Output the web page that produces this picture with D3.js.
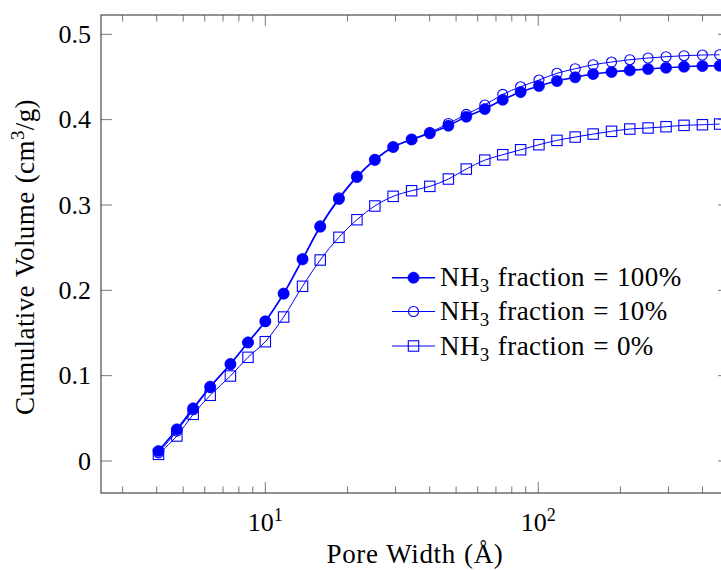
<!DOCTYPE html>
<html>
<head>
<meta charset="utf-8">
<script src="https://cdn.jsdelivr.net/npm/d3@7"></script>
<style>
  html, body { margin: 0; padding: 0; background: #fff; overflow: hidden; }
  svg { display: block; }
  text { font-family: "Liberation Serif", "DejaVu Serif", serif; fill: #000; }
</style>
</head>
<body>
<svg id="chart" width="721" height="570"></svg>
<script>
// Pore width (Å) shared by all three series
const poreWidth = [4.06, 4.74, 5.44, 6.28, 7.45, 8.64, 10.0, 11.67, 13.69, 15.89, 18.61, 21.66,
  25.2, 29.4, 34.36, 40.06, 46.85, 54.5, 63.7, 74.1, 86.2, 100.6, 117.1, 136.6, 158.9,
  185.6, 216.5, 252.6, 294.0, 342.1, 399.5, 462.1];

// Cumulative volume (cm³/g) for each NH3 fraction
const vol100 = [0.0117, 0.0371, 0.0617, 0.0871, 0.1137, 0.139, 0.1637, 0.196, 0.2363, 0.2745,
  0.307, 0.3327, 0.3527, 0.3679, 0.3767, 0.384, 0.3929, 0.4034, 0.4124, 0.4233, 0.4323,
  0.4394, 0.4452, 0.4496, 0.4534, 0.4558, 0.4577, 0.4593, 0.4608, 0.462, 0.4628, 0.4632];
const vol10 = [0.0095, 0.035, 0.060, 0.086, 0.113, 0.1385, 0.1635, 0.1965, 0.237, 0.2755,
  0.3085, 0.334, 0.3535, 0.368, 0.377, 0.385, 0.3955, 0.4062, 0.4171, 0.4296, 0.4385,
  0.4464, 0.4543, 0.4596, 0.4643, 0.4675, 0.4702, 0.4722, 0.4737, 0.4749, 0.4757, 0.476];
const vol0 = [0.0078, 0.0293, 0.0547, 0.077, 0.0996, 0.1215, 0.1398, 0.1687, 0.2047, 0.2355,
  0.2621, 0.2827, 0.2988, 0.3101, 0.3167, 0.3218, 0.3304, 0.3421, 0.3525, 0.3589, 0.3647,
  0.3706, 0.3757, 0.3796, 0.3831, 0.3863, 0.389, 0.3902, 0.3917, 0.3933, 0.394, 0.3948];

const seriesLabels = ["100%", "10%", "0%"];
const yTicks = [0, 0.1, 0.2, 0.3, 0.4, 0.5];
const xMajorTicks = [10, 100];
const xMajorExponents = ["1", "2"];
const xMinorTicks = [3, 4, 5, 6, 7, 8, 9, 20, 30, 40, 50, 60, 70, 80, 90, 200, 300, 400];

const svg = d3.select("#chart");
const plot = { left: 101, right: 729, top: 15, bottom: 493 };

const x = d3.scaleLog().domain([2.5, 500]).range([plot.left, plot.right]);
const y = d3.scaleLinear().domain([-0.0375, 0.5226]).range([plot.bottom, plot.top]);

const blue = "#0000ff";
const fontSize = 26;
const labelSize = 27;

// Ticks (inward on all four sides)
const tickColor = "#6a6a6a";
const majorLen = 11, minorLen = 6.5;
const ticks = svg.append("g").attr("stroke", tickColor).attr("stroke-width", 0.9);
yTicks.forEach(v => {
  ticks.append("line").attr("x1", plot.left).attr("x2", plot.left + majorLen)
    .attr("y1", y(v)).attr("y2", y(v));
  ticks.append("line").attr("x1", plot.right).attr("x2", plot.right - majorLen)
    .attr("y1", y(v)).attr("y2", y(v));
});
xMajorTicks.forEach(v => {
  ticks.append("line").attr("x1", x(v)).attr("x2", x(v))
    .attr("y1", plot.bottom).attr("y2", plot.bottom - majorLen);
  ticks.append("line").attr("x1", x(v)).attr("x2", x(v))
    .attr("y1", plot.top).attr("y2", plot.top + majorLen);
});
xMinorTicks.forEach(v => {
  ticks.append("line").attr("x1", x(v)).attr("x2", x(v))
    .attr("y1", plot.bottom).attr("y2", plot.bottom - minorLen);
  ticks.append("line").attr("x1", x(v)).attr("x2", x(v))
    .attr("y1", plot.top).attr("y2", plot.top + minorLen);
});

// Frame
svg.append("rect")
  .attr("x", plot.left).attr("y", plot.top)
  .attr("width", plot.right - plot.left).attr("height", plot.bottom - plot.top)
  .attr("fill", "none").attr("stroke", "#3a3a3a").attr("stroke-width", 1.1);

// Tick labels
svg.append("g").selectAll("text").data(yTicks).join("text")
  .attr("x", plot.left - 10).attr("y", d => y(d)).attr("dy", "0.34em")
  .attr("text-anchor", "end").attr("font-size", fontSize)
  .text(d => d === 0 ? "0" : d3.format(".1f")(d));

xMajorTicks.forEach((v, i) => {
  const t = svg.append("text").attr("x", x(v)).attr("y", 531)
    .attr("text-anchor", "middle").attr("font-size", fontSize);
  t.append("tspan").text("10");
  t.append("tspan").attr("dy", -10).attr("font-size", 18).text(xMajorExponents[i]);
});

// Axis titles
svg.append("text").attr("x", 415).attr("y", 563)
  .attr("text-anchor", "middle").attr("font-size", labelSize)
  .attr("letter-spacing", 0.6).attr("word-spacing", 1)
  .text("Pore Width (Å)");

const yt = svg.append("text")
  .attr("transform", "translate(34,257) rotate(-90)")
  .attr("text-anchor", "middle").attr("font-size", labelSize)
  .attr("letter-spacing", 0.4).attr("word-spacing", 1);
yt.append("tspan").text("Cumulative Volume (cm");
yt.append("tspan").attr("dy", -10).attr("font-size", 19).text("3");
yt.append("tspan").attr("dy", 10).text("/g)");

// Series
const series = [
  { values: vol100, marker: "filled", width: 1.6 },
  { values: vol10, marker: "open", width: 1.0 },
  { values: vol0, marker: "square", width: 1.0 }
];

const line = d3.line().x(d => x(d[0])).y(d => y(d[1])).curve(d3.curveCatmullRom.alpha(0.5));

function drawMarker(g, type, cx, cy) {
  if (type === "filled") {
    g.append("circle").attr("cx", cx).attr("cy", cy).attr("r", 5.6)
      .attr("fill", blue).attr("stroke", blue).attr("stroke-width", 0.6);
  } else if (type === "open") {
    g.append("circle").attr("cx", cx).attr("cy", cy).attr("r", 5)
      .attr("fill", "none").attr("stroke", blue).attr("stroke-width", 1.1);
  } else {
    g.append("rect").attr("x", cx - 5.2).attr("y", cy - 5.2).attr("width", 10.4).attr("height", 10.4)
      .attr("fill", "none").attr("stroke", blue).attr("stroke-width", 1.1);
  }
}

series.forEach(s => {
  const pts = poreWidth.map((w, i) => [w, s.values[i]]);
  const g = svg.append("g");
  g.append("path").attr("d", line(pts)).attr("fill", "none")
    .attr("stroke", blue).attr("stroke-width", s.width);
  pts.forEach(p => drawMarker(g, s.marker, x(p[0]), y(p[1])));
});

// Legend
const legendRows = [277.7, 311.5, 346];
series.forEach((s, i) => {
  const cy = legendRows[i];
  const g = svg.append("g");
  g.append("line").attr("x1", 392).attr("x2", 435).attr("y1", cy).attr("y2", cy)
    .attr("stroke", blue).attr("stroke-width", s.width);
  drawMarker(g, s.marker, 413.5, cy);
  const t = g.append("text").attr("x", 440).attr("y", cy + 8.5).attr("font-size", labelSize)
    .attr("letter-spacing", 0.4).attr("word-spacing", 1);
  t.append("tspan").text("NH");
  t.append("tspan").attr("dy", 6).attr("font-size", 19).text("3");
  t.append("tspan").attr("dy", -6).text(" fraction = " + seriesLabels[i]);
});
</script>
</body>
</html>
